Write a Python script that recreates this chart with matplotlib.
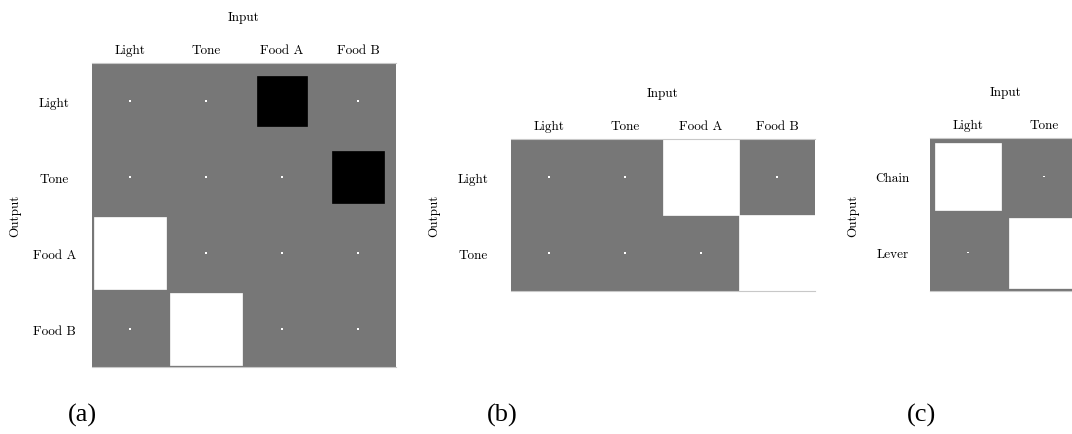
import numpy as np
import matplotlib
matplotlib.use("Agg")
import matplotlib.pyplot as plt
from matplotlib.patches import Rectangle

# panel (a): 4 outputs x 4 inputs
inputs_a = ["Light", "Tone", "Food A", "Food B"]
outputs_a = ["Light", "Tone", "Food A", "Food B"]
weights_a = [
    [0.0003, 0.0003, -0.44, 0.0003],
    [0.0003, 0.0003, 0.0003, -0.47],
    [0.92, 0.0003, 0.0003, 0.0003],
    [0.0003, 0.92, 0.0003, 0.0003],
]

# panel (b): 2 outputs x 4 inputs
inputs_b = ["Light", "Tone", "Food A", "Food B"]
outputs_b = ["Light", "Tone"]
weights_b = [
    [0.0003, 0.0003, 0.98, 0.0003],
    [0.0003, 0.0003, 0.0003, 0.98],
]

# panel (c): 2 outputs x 2 inputs
inputs_c = ["Light", "Tone"]
outputs_c = ["Chain", "Lever"]
weights_c = [
    [0.76, 0.0003],
    [0.0003, 0.83],
]

panel_tags = ["(a)", "(b)", "(c)"]

W, H = 1072, 435
BG = "#777777"
plt.rcParams["font.family"] = ["cmr10", "DejaVu Serif"]
plt.rcParams["axes.formatter.use_mathtext"] = True


def hinton(ax, w, cols, rows, max_weight=1.0):
    w = np.asarray(w, dtype=float)
    nr, nc = w.shape
    ax.set_facecolor(BG)
    for (i, j), v in np.ndenumerate(w):
        color = "white" if v > 0 else "black"
        size = np.sqrt(abs(v) / max_weight)
        lw = 0.5 if size > 0.1 else 0.0
        rect = Rectangle((j + 0.5 - size / 2, i + 0.5 - size / 2), size, size,
                         facecolor=color, edgecolor=color, lw=lw)
        ax.add_patch(rect)
    ax.set_xlim(0, nc)
    ax.set_ylim(nr, 0)
    ax.xaxis.tick_top()
    ax.set_xticks(np.arange(nc) + 0.5)
    ax.set_xticklabels(cols, fontsize=9.5)
    ax.set_yticks(np.arange(nr) + 0.5)
    ax.set_yticklabels(rows, fontsize=9.5, ha="center")
    ax.tick_params(axis="x", length=0, pad=5)
    ax.tick_params(axis="y", length=0, pad=27)
    for s in ["left", "right"]:
        ax.spines[s].set_visible(False)
    for s in ["top", "bottom"]:
        ax.spines[s].set_color("#c8c8c8")
        ax.spines[s].set_linewidth(0.8)
    ax.annotate("Input", xy=(0.5, 1), xycoords="axes fraction",
                xytext=(0, 33), textcoords="offset points",
                ha="center", va="center", fontsize=9.5)
    ax.annotate("Output", xy=(0, 0.5), xycoords="axes fraction",
                xytext=(-55, 0), textcoords="offset points",
                ha="center", va="center", rotation=90, fontsize=9.5)


fig = plt.figure(figsize=(W / 100, H / 100), dpi=100)


def px_axes(left, top, right, bottom):
    return fig.add_axes([left / W, 1 - bottom / H, (right - left) / W, (bottom - top) / H])


ax_a = px_axes(92, 64, 396, 368)
hinton(ax_a, weights_a, inputs_a, outputs_a)

ax_b = px_axes(511, 140, 815, 292)
hinton(ax_b, weights_b, inputs_b, outputs_b)

ax_c = px_axes(930, 139, 1082, 292)
hinton(ax_c, weights_c, inputs_c, outputs_c)

for tag, x in zip(panel_tags, [82, 502, 921]):
    fig.text(x / W, 1 - 415 / H, tag, ha="center", va="center",
             fontsize=19, family="Liberation Serif")

fig.savefig("out.png", dpi=100)
